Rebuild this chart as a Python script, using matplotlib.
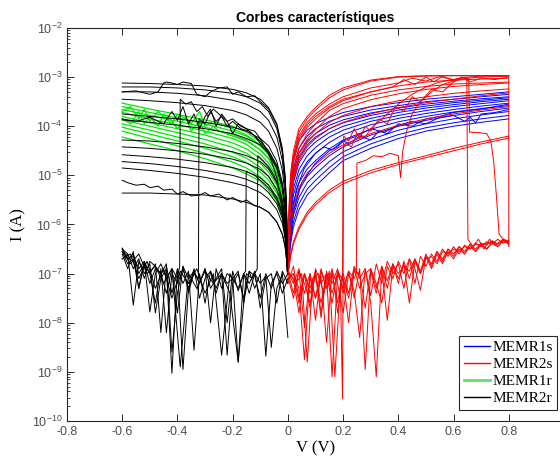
"""
    I-V characteristic curves of the memristors (set and reset sweeps), log current scale.
"""

import numpy as np
import matplotlib
matplotlib.use('Agg')
import matplotlib.pyplot as plt
from matplotlib.ticker import LogLocator, NullFormatter

# ------------------------------------- Data ---------------------------------------- #
# all currents are given as log10(I / A)

# voltage grids of the smooth sweeps
v_set = [0.002, 0.005, 0.01, 0.02, 0.04, 0.07, 0.1, 0.15, 0.2, 0.3, 0.4, 0.5, 0.6, 0.7, 0.8]
v_reset = [-0.6, -0.5, -0.4, -0.3, -0.2, -0.15, -0.1, -0.07, -0.04, -0.02, -0.01, -0.005, -0.002]

# voltage grids of the noisy low-state sweeps
v_low_pos = [0.0, 0.02, 0.04, 0.06, 0.08, 0.1, 0.12, 0.14, 0.16, 0.18, 0.2, 0.22, 0.24, 0.26,
             0.28, 0.3, 0.32, 0.34, 0.36, 0.38, 0.4, 0.42, 0.44, 0.46, 0.48, 0.5, 0.52, 0.54,
             0.56, 0.58, 0.6, 0.62, 0.64, 0.66, 0.68, 0.7, 0.72, 0.74, 0.76, 0.78, 0.8]
v_low_neg = [0.0, -0.02, -0.04, -0.06, -0.08, -0.1, -0.12, -0.14, -0.16, -0.18, -0.2, -0.22,
             -0.24, -0.26, -0.28, -0.3, -0.32, -0.34, -0.36, -0.38, -0.4, -0.42, -0.44, -0.46,
             -0.48, -0.5, -0.52, -0.54, -0.56, -0.58, -0.6]

# MEMR1s (blue)
memr1s = [
    [-6.6, -5.8, -5.2, -4.7, -4.3, -4.08, -3.95, -3.82, -3.72, -3.6, -3.52, -3.45, -3.4, -3.35, -3.3],
    [-6.65, -5.9, -5.35, -4.85, -4.45, -4.2, -4.05, -3.9, -3.8, -3.67, -3.58, -3.5, -3.45, -3.4, -3.35],
    [-6.7, -6.0, -5.45, -4.95, -4.55, -4.3, -4.15, -3.98, -3.87, -3.73, -3.63, -3.55, -3.49, -3.44, -3.4],
    [-6.7, -6.05, -5.55, -5.05, -4.65, -4.38, -4.22, -4.05, -3.93, -3.78, -3.67, -3.59, -3.52, -3.47, -3.42],
    [-6.75, -6.15, -5.65, -5.15, -4.75, -4.48, -4.32, -4.13, -4.0, -3.84, -3.72, -3.63, -3.56, -3.5, -3.45],
    [-6.8, -6.25, -5.75, -5.28, -4.88, -4.6, -4.43, -4.22, -4.08, -3.9, -3.78, -3.68, -3.6, -3.54, -3.48],
    [-6.8, -6.3, -5.85, -5.4, -5.0, -4.72, -4.55, -4.33, -4.17, -3.97, -3.84, -3.74, -3.66, -3.59, -3.53],
    [-6.85, -6.4, -5.98, -5.55, -5.15, -4.87, -4.7, -4.46, -4.28, -4.06, -3.91, -3.8, -3.71, -3.64, -3.58],
    [-6.85, -6.5, -6.1, -5.7, -5.3, -5.02, -4.84, -4.6, -4.42, -4.18, -4.0, -3.88, -3.78, -3.7, -3.63],
    [-6.9, -6.55, -6.2, -5.82, -5.45, -5.15, -4.98, -4.72, -4.52, -4.27, -4.08, -3.95, -3.85, -3.77, -3.7],
    [-6.9, -6.62, -6.3, -5.95, -5.58, -5.28, -5.1, -4.84, -4.62, -4.36, -4.17, -4.03, -3.93, -3.85, -3.78],
    [-6.95, -6.7, -6.4, -6.05, -5.7, -5.4, -5.22, -4.95, -4.7, -4.45, -4.25, -4.1, -4.0, -3.92, -3.85],
]
memr1s_jag_v = [
    [0.002, 0.01, 0.02, 0.05, 0.1, 0.15, 0.18, 0.2, 0.22, 0.26, 0.3, 0.33, 0.36, 0.4, 0.45, 0.5, 0.55, 0.6, 0.7, 0.8],
    [0.002, 0.01, 0.03, 0.06, 0.1, 0.13, 0.16, 0.2, 0.25, 0.3, 0.35, 0.4, 0.45, 0.5, 0.55, 0.6, 0.64, 0.66, 0.68, 0.7, 0.75, 0.8],
]
memr1s_jag = [
    [-6.85, -6.2, -5.75, -5.15, -4.75, -4.5, -4.42, -4.3, -4.35, -4.2, -4.28, -4.1, -4.15, -3.95, -4.0, -3.85, -3.8, -3.72, -3.65, -3.55],
    [-6.8, -6.0, -5.3, -4.85, -4.55, -4.42, -4.48, -4.3, -4.2, -4.05, -4.12, -3.98, -3.9, -3.95, -3.82, -3.78, -3.9, -3.82, -3.93, -3.75, -3.72, -3.66],
]

# MEMR2s (red)
memr2s = [
    [-6.3, -5.5, -4.95, -4.5, -4.05, -3.8, -3.62, -3.37, -3.22, -3.06, -2.99, -2.97, -2.97, -2.97, -2.97],
    [-6.35, -5.6, -5.05, -4.6, -4.12, -3.85, -3.67, -3.42, -3.26, -3.08, -3.0, -2.98, -2.97, -2.97, -2.97],
    [-6.5, -5.8, -5.3, -4.9, -4.45, -4.15, -3.95, -3.68, -3.54, -3.37, -3.26, -3.19, -3.14, -3.12, -3.1],
    [-6.55, -5.9, -5.4, -5.0, -4.55, -4.26, -4.07, -3.8, -3.64, -3.46, -3.34, -3.25, -3.19, -3.15, -3.12],
    [-6.6, -6.0, -5.5, -5.05, -4.62, -4.33, -4.15, -3.92, -3.78, -3.6, -3.48, -3.4, -3.33, -3.28, -3.24],
    [-6.7, -6.1, -5.6, -5.1, -4.7, -4.42, -4.25, -4.05, -3.92, -3.75, -3.62, -3.52, -3.45, -3.38, -3.32],
    [-6.85, -6.45, -6.05, -5.65, -5.25, -4.95, -4.78, -4.55, -4.38, -4.15, -3.98, -3.85, -3.75, -3.67, -3.6],
    [-6.95, -6.8, -6.6, -6.35, -6.05, -5.75, -5.55, -5.3, -5.12, -4.9, -4.74, -4.6, -4.45, -4.32, -4.2],
    [-6.95, -6.85, -6.65, -6.4, -6.1, -5.8, -5.6, -5.35, -5.17, -4.95, -4.78, -4.64, -4.5, -4.36, -4.24],
]
# sweeps that switch (low -> high at ~0.2 V, high -> low at ~0.65-0.8 V)
memr2s_sw_v = [
    [0.002, 0.02, 0.04, 0.06, 0.08, 0.1, 0.12, 0.14, 0.16, 0.18, 0.198, 0.2, 0.21, 0.23, 0.25, 0.28,
     0.3, 0.33, 0.36, 0.4, 0.45, 0.5, 0.55, 0.6, 0.65, 0.7, 0.8],
    [0.002, 0.02, 0.04, 0.06, 0.08, 0.1, 0.12, 0.14, 0.16, 0.18, 0.2, 0.22, 0.24, 0.248, 0.25, 0.28,
     0.31, 0.34, 0.37, 0.4, 0.408, 0.416, 0.43, 0.45, 0.48, 0.52, 0.56, 0.6, 0.65, 0.7, 0.8],
    [0.002, 0.03, 0.05, 0.07, 0.09, 0.11, 0.13, 0.15, 0.17, 0.19, 0.198, 0.202, 0.22, 0.24, 0.26, 0.28,
     0.3, 0.33, 0.36, 0.39, 0.42, 0.45, 0.48, 0.52, 0.56, 0.6, 0.63, 0.66, 0.7, 0.75, 0.8],
    [0.002, 0.005, 0.01, 0.02, 0.04, 0.07, 0.1, 0.15, 0.2, 0.3, 0.38, 0.42, 0.46, 0.5, 0.53, 0.56,
     0.6, 0.63, 0.648, 0.652, 0.67, 0.69, 0.71, 0.73, 0.75, 0.77, 0.8],
    [0.002, 0.005, 0.01, 0.02, 0.04, 0.07, 0.1, 0.15, 0.2, 0.3, 0.4, 0.45, 0.5, 0.55, 0.6, 0.64,
     0.655, 0.658, 0.69, 0.72, 0.735, 0.745, 0.755, 0.765, 0.78, 0.8],
    [0.002, 0.005, 0.01, 0.02, 0.04, 0.07, 0.1, 0.15, 0.2, 0.3, 0.4, 0.5, 0.6, 0.7, 0.8, 0.8],
]
memr2s_sw = [
    [-7.0, -7.4, -6.95, -8.1, -7.05, -7.5, -6.9, -7.3, -7.0, -7.6, -7.0, -4.45, -4.35, -4.42, -4.15, -4.22,
     -4.05, -3.9, -3.75, -3.55, -3.35, -3.2, -3.1, -3.05, -3.0, -2.98, -2.97],
    [-7.1, -7.0, -7.6, -7.0, -7.3, -6.95, -7.8, -7.0, -7.2, -6.9, -7.4, -6.95, -7.1, -7.0, -4.75, -4.7,
     -4.6, -4.62, -4.55, -4.6, -5.05, -4.5, -4.1, -3.75, -3.5, -3.3, -3.15, -3.08, -3.02, -3.0, -2.98],
    [-6.95, -7.2, -7.0, -8.8, -7.1, -7.0, -7.4, -6.95, -9.1, -7.2, -9.55, -4.2, -4.3, -4.05, -4.25, -4.0,
     -4.1, -3.85, -3.95, -3.6, -3.7, -3.4, -3.5, -3.25, -3.3, -3.1, -3.0, -3.1, -3.02, -3.05, -3.0],
    [-6.45, -5.7, -5.15, -4.7, -4.25, -3.97, -3.8, -3.6, -3.45, -3.3, -3.2, -3.05, -3.15, -3.0, -3.1, -2.98,
     -3.08, -3.0, -3.02, -6.3, -6.45, -6.3, -6.5, -6.3, -6.42, -6.35, -6.38],
    [-6.4, -5.65, -5.1, -4.65, -4.2, -3.92, -3.75, -3.55, -3.4, -3.22, -3.12, -3.02, -3.08, -2.99, -3.05, -3.0,
     -3.03, -4.12, -4.13, -4.15, -4.3, -4.7, -5.4, -6.2, -6.3, -6.4],
    [-6.5, -5.75, -5.2, -4.75, -4.3, -4.02, -3.85, -3.63, -3.48, -3.3, -3.18, -3.1, -3.06, -3.04, -3.02, -6.45],
]
# high resistance state sweeps (noisy, ~1e-7 A)
memr2s_low = [
    [-7.0, -7.1, -7.8, -7.0, -7.4, -7.05, -7.6, -7.0, -9.1, -7.0, -7.3, -6.95, -7.5, -6.9, -8.95, -6.95,
     -7.4, -6.85, -7.3, -6.8, -7.2, -6.75, -7.1, -6.7, -6.95, -6.6, -6.85, -6.55, -6.75, -6.5, -6.65,
     -6.45, -6.6, -6.4, -6.55, -6.4, -6.5, -6.35, -6.45, -6.32, -6.4],
    [-7.1, -7.0, -7.3, -8.75, -7.0, -7.5, -7.05, -8.4, -6.95, -7.2, -7.8, -7.0, -7.35, -8.3, -6.9, -7.6,
     -9.1, -6.9, -7.95, -6.85, -7.1, -6.8, -7.6, -6.75, -7.0, -6.65, -6.9, -6.6, -6.8, -6.55, -6.7,
     -6.5, -6.6, -6.45, -6.55, -6.4, -6.5, -6.38, -6.45, -6.33, -6.35],
    [-6.95, -7.2, -6.9, -7.4, -7.0, -7.95, -6.95, -7.3, -6.9, -7.8, -7.0, -7.4, -6.85, -7.1, -6.9, -7.45,
     -6.8, -7.2, -6.75, -7.0, -6.8, -7.3, -6.7, -6.9, -7.34, -6.65, -6.8, -6.55, -6.7, -6.5, -6.6,
     -6.45, -6.55, -6.4, -6.5, -6.38, -6.42, -6.33, -6.4, -6.3, -6.36],
    [-7.2, -6.85, -7.5, -7.0, -7.7, -6.9, -7.2, -7.0, -7.6, -6.95, -7.15, -8.0, -6.9, -7.3, -7.0, -6.9,
     -7.2, -7.6, -6.85, -7.1, -6.75, -7.0, -6.7, -7.2, -6.65, -6.85, -6.6, -6.75, -6.5, -6.65, -6.45,
     -6.6, -6.42, -6.5, -6.38, -6.45, -6.35, -6.4, -6.3, -6.38, -6.32],
    [-7.05, -7.5, -6.95, -7.2, -7.6, -7.0, -7.9, -6.95, -7.4, -7.0, -7.1, -7.5, -6.95, -7.0, -7.7, -6.9,
     -7.3, -6.85, -7.15, -6.8, -7.0, -6.85, -6.95, -6.7, -7.0, -6.7, -6.65, -6.8, -6.55, -6.6, -6.5,
     -6.55, -6.45, -6.5, -6.4, -6.42, -6.38, -6.35, -6.4, -6.3, -6.34],
]

# MEMR1r (green)
memr1r = [
    [-3.53, -3.65, -3.76, -3.87, -4.0, -4.12, -4.32, -4.5, -4.8, -5.25, -5.7, -6.1, -6.7],
    [-3.6, -3.72, -3.83, -3.95, -4.1, -4.2, -4.4, -4.58, -4.88, -5.32, -5.75, -6.15, -6.72],
    [-3.66, -3.78, -3.9, -4.02, -4.17, -4.28, -4.48, -4.66, -4.96, -5.38, -5.8, -6.2, -6.75],
    [-3.72, -3.85, -3.97, -4.1, -4.25, -4.37, -4.57, -4.75, -5.04, -5.45, -5.85, -6.25, -6.75],
    [-3.8, -3.93, -4.05, -4.18, -4.34, -4.46, -4.66, -4.84, -5.12, -5.52, -5.9, -6.28, -6.78],
    [-3.87, -4.0, -4.13, -4.27, -4.43, -4.55, -4.75, -4.93, -5.2, -5.58, -5.95, -6.32, -6.8],
    [-3.95, -4.08, -4.22, -4.36, -4.53, -4.65, -4.84, -5.02, -5.28, -5.65, -6.0, -6.35, -6.8],
    [-4.02, -4.16, -4.3, -4.45, -4.62, -4.74, -4.93, -5.1, -5.36, -5.72, -6.05, -6.4, -6.82],
    [-4.1, -4.25, -4.4, -4.55, -4.73, -4.85, -5.03, -5.2, -5.45, -5.78, -6.1, -6.42, -6.85],
    [-4.22, -4.36, -4.5, -4.66, -4.85, -4.97, -5.12, -5.3, -5.52, -5.85, -6.15, -6.45, -6.85],
]
memr1r_jag_v = [-0.6, -0.57, -0.54, -0.52, -0.5, -0.47, -0.45, -0.42, -0.4, -0.37, -0.35, -0.32,
                -0.3, -0.27, -0.25, -0.2, -0.15, -0.1, -0.07, -0.04, -0.02, -0.01, -0.005, -0.002]
memr1r_jag = [
    [-3.7, -3.6, -3.85, -3.65, -3.9, -3.7, -3.8, -3.95, -3.75, -3.85, -3.95, -3.7, -4.0, -3.9, -3.95,
     -4.05, -4.18, -4.38, -4.55, -4.85, -5.3, -5.72, -6.12, -6.7],
    [-3.85, -3.95, -3.7, -3.95, -3.8, -4.0, -3.75, -3.9, -4.05, -3.8, -4.1, -3.9, -4.15, -4.0, -4.1,
     -4.2, -4.3, -4.48, -4.65, -4.95, -5.35, -5.78, -6.15, -6.72],
]

# MEMR2r (black)
memr2r = [
    [-3.12, -3.13, -3.15, -3.18, -3.25, -3.32, -3.45, -3.62, -3.95, -4.45, -5.0, -5.6, -6.5],
    [-3.2, -3.2, -3.22, -3.26, -3.33, -3.4, -3.53, -3.7, -4.05, -4.55, -5.1, -5.7, -6.55],
    [-3.3, -3.3, -3.33, -3.38, -3.47, -3.55, -3.7, -3.88, -4.22, -4.7, -5.25, -5.8, -6.6],
    [-3.45, -3.48, -3.52, -3.58, -3.68, -3.77, -3.92, -4.1, -4.45, -4.9, -5.4, -5.9, -6.65],
    [-3.75, -3.8, -3.85, -3.92, -4.02, -4.1, -4.25, -4.4, -4.72, -5.15, -5.6, -6.05, -6.7],
    [-3.87, -3.92, -3.98, -4.05, -4.15, -4.25, -4.38, -4.55, -4.85, -5.25, -5.7, -6.1, -6.75],
    [-4.28, -4.3, -4.35, -4.42, -4.52, -4.6, -4.72, -4.87, -5.15, -5.5, -5.9, -6.25, -6.8],
    [-4.42, -4.45, -4.5, -4.57, -4.67, -4.75, -4.88, -5.02, -5.3, -5.62, -6.0, -6.35, -6.85],
    [-4.58, -4.62, -4.67, -4.74, -4.84, -4.92, -5.05, -5.2, -5.45, -5.75, -6.1, -6.4, -6.85],
    [-4.72, -4.76, -4.82, -4.9, -5.0, -5.08, -5.2, -5.35, -5.58, -5.88, -6.2, -6.5, -6.9],
    [-4.85, -4.9, -4.96, -5.04, -5.15, -5.22, -5.35, -5.48, -5.7, -5.98, -6.28, -6.55, -6.9],
    [-5.36, -5.36, -5.38, -5.4, -5.48, -5.55, -5.65, -5.75, -5.95, -6.2, -6.45, -6.7, -6.95],
]
memr2r_jag_v = [
    [-0.6, -0.55, -0.5, -0.47, -0.45, -0.44, -0.42, -0.4, -0.38, -0.35, -0.33, -0.3, -0.28, -0.25,
     -0.22, -0.2, -0.18, -0.15, -0.12, -0.1, -0.07, -0.04, -0.02, -0.01, -0.004, -0.002],
    [-0.6, -0.55, -0.5, -0.45, -0.42, -0.4, -0.38, -0.36, -0.34, -0.32, -0.3, -0.28, -0.26, -0.24,
     -0.22, -0.2, -0.18, -0.15, -0.12, -0.1, -0.07, -0.04, -0.02, -0.01, -0.004, -0.002],
    [-0.6, -0.58, -0.55, -0.52, -0.5, -0.47, -0.45, -0.42, -0.4, -0.38, -0.35, -0.32, -0.3, -0.28,
     -0.25, -0.22, -0.2, -0.17, -0.15, -0.12, -0.1, -0.07, -0.04, -0.02, -0.01, -0.004, -0.002],
    # sweeps that switch from the low state to the high state
    [-0.6, -0.58, -0.56, -0.54, -0.52, -0.5, -0.48, -0.46, -0.44, -0.42, -0.4, -0.392, -0.39, -0.37,
     -0.35, -0.33, -0.31, -0.29, -0.27, -0.25, -0.22, -0.2, -0.17, -0.15, -0.12, -0.1, -0.08, -0.06,
     -0.04, -0.03, -0.02, -0.01, -0.005, -0.002],
    [-0.6, -0.58, -0.56, -0.54, -0.52, -0.5, -0.48, -0.46, -0.44, -0.42, -0.4, -0.38, -0.36, -0.34,
     -0.324, -0.322, -0.3, -0.28, -0.26, -0.24, -0.22, -0.2, -0.17, -0.14, -0.12, -0.1, -0.07, -0.04,
     -0.02, -0.01, -0.005, -0.002],
    [-0.6, -0.57, -0.54, -0.51, -0.48, -0.45, -0.42, -0.39, -0.36, -0.33, -0.3, -0.27, -0.24, -0.21,
     -0.18, -0.16, -0.153, -0.151, -0.14, -0.12, -0.1, -0.08, -0.06, -0.04, -0.02, -0.01, -0.005, -0.002],
    [-0.6, -0.57, -0.54, -0.51, -0.48, -0.45, -0.42, -0.39, -0.36, -0.33, -0.3, -0.27, -0.24, -0.21,
     -0.18, -0.15, -0.13, -0.111, -0.109, -0.09, -0.07, -0.05, -0.03, -0.02, -0.01, -0.005, -0.002],
]
memr2r_jag = [
    [-3.3, -3.28, -3.35, -3.3, -3.12, -3.1, -3.12, -3.15, -3.1, -3.13, -3.35, -3.4, -3.3, -3.22,
     -3.2, -3.35, -3.3, -3.4, -3.38, -3.5, -3.65, -3.98, -4.5, -5.05, -5.9, -6.6],
    [-3.85, -3.9, -3.82, -3.95, -3.7, -3.88, -3.6, -3.95, -3.75, -4.05, -3.8, -3.65, -4.0, -3.75,
     -3.9, -4.15, -3.95, -4.05, -4.2, -4.35, -4.55, -4.85, -5.25, -5.7, -6.3, -6.75],
    [-5.1, -5.15, -5.2, -5.18, -5.25, -5.22, -5.3, -5.28, -5.38, -5.33, -5.42, -5.4, -5.35, -5.42,
     -5.38, -5.5, -5.45, -5.55, -5.5, -5.62, -5.65, -5.75, -5.95, -6.2, -6.45, -6.75, -6.95],
    [-6.5, -6.7, -6.6, -7.0, -6.8, -7.2, -6.9, -7.0, -7.4, -6.9, -7.1, -6.85, -3.45, -3.55,
     -3.5, -3.7, -3.6, -3.8, -3.65, -3.75, -3.9, -3.85, -4.0, -4.05, -4.1, -4.25, -4.45, -4.7,
     -5.05, -5.35, -5.75, -6.3, -6.7, -7.0],
    [-6.6, -6.9, -6.55, -7.3, -6.8, -7.0, -7.6, -6.9, -8.2, -7.0, -7.2, -6.9, -7.3, -7.0,
     -7.1, -3.85, -3.95, -3.7, -3.9, -3.8, -4.0, -3.9, -4.05, -4.1, -4.2, -4.3, -4.5, -4.8,
     -5.2, -5.65, -6.1, -6.7],
    [-6.7, -6.6, -7.1, -6.75, -7.3, -6.9, -7.5, -6.95, -7.2, -6.9, -7.4, -7.0, -8.66, -7.0,
     -7.3, -7.0, -6.95, -4.92, -4.95, -5.0, -5.1, -5.2, -5.32, -5.5, -5.8, -6.1, -6.4, -6.8],
    [-6.55, -6.8, -6.6, -7.0, -6.85, -7.2, -6.9, -8.9, -7.0, -7.3, -6.95, -7.2, -7.0, -7.4,
     -8.8, -7.0, -7.1, -6.9, -4.6, -4.7, -4.82, -5.0, -5.3, -5.55, -6.0, -6.4, -6.8],
]
memr2r_low = [
    [-8.3, -7.0, -7.3, -8.5, -7.05, -7.2, -7.0, -7.4, -7.0, -8.8, -7.1, -7.2, -7.0, -7.3, -6.95, -7.6,
     -7.0, -8.56, -6.95, -7.2, -6.9, -9.03, -6.9, -7.1, -7.8, -6.8, -7.0, -6.75, -7.64, -6.6, -6.5],
    [-7.1, -7.4, -7.0, -7.2, -8.68, -7.0, -7.3, -6.95, -7.5, -7.0, -7.2, -8.66, -7.0, -7.4, -6.95, -7.1,
     -7.5, -6.9, -7.3, -8.95, -6.9, -7.4, -6.85, -8.2, -6.8, -7.0, -6.75, -7.3, -6.7, -6.8, -6.55],
    [-7.2, -6.95, -7.6, -7.0, -7.1, -7.7, -6.95, -7.2, -7.0, -7.35, -6.95, -8.0, -6.9, -7.1, -7.3, -6.9,
     -7.2, -6.95, -7.4, -6.85, -7.8, -6.9, -7.1, -6.8, -7.0, -7.78, -6.75, -6.9, -6.65, -6.7, -6.48],
    [-7.0, -7.2, -6.95, -7.3, -7.0, -7.5, -7.05, -6.95, -7.6, -6.95, -7.1, -7.0, -7.3, -6.9, -8.0, -6.9,
     -7.2, -6.95, -7.1, -6.85, -7.4, -8.6, -6.8, -7.0, -6.85, -6.75, -7.1, -6.7, -6.9, -6.6, -6.7],
]

labels = ['MEMR1s', 'MEMR2s', 'MEMR1r', 'MEMR2r']
colors = ['#0000ff', '#ff0000', '#00e600', '#000000']

# ------------------------------------- Plot ---------------------------------------- #
plt.rcParams['mathtext.fontset'] = 'custom'
plt.rcParams['mathtext.rm'] = 'Liberation Sans'
plt.rcParams['mathtext.it'] = 'Liberation Sans:italic'

fig = plt.figure(figsize=(5.6, 4.61), dpi=100)
ax = fig.add_axes([67 / 560, 1 - 421 / 461, (564 - 67) / 560, (421 - 28) / 461])


def draw(v, logi, color, lw=0.7, label=None):
    ax.plot(v, 10.0 ** np.asarray(logi), color=color, lw=lw, label=label)


# MEMR1s
for k, c in enumerate(memr1s):
    draw(v_set, c, colors[0], label=labels[0] if k == 0 else None)
for v, c in zip(memr1s_jag_v, memr1s_jag):
    draw(v, c, colors[0])

# MEMR2s
for k, c in enumerate(memr2s):
    draw(v_set, c, colors[1], label=labels[1] if k == 0 else None)
for v, c in zip(memr2s_sw_v, memr2s_sw):
    draw(v, c, colors[1])
for c in memr2s_low:
    draw(v_low_pos, c, colors[1])

# MEMR1r
for k, c in enumerate(memr1r):
    draw(v_reset, c, colors[2], lw=0.9, label=labels[2] if k == 0 else None)
for c in memr1r_jag:
    draw(memr1r_jag_v, c, colors[2], lw=0.9)

# MEMR2r
for k, c in enumerate(memr2r):
    draw(v_reset, c, colors[3], label=labels[3] if k == 0 else None)
for v, c in zip(memr2r_jag_v, memr2r_jag):
    draw(v, c, colors[3])
for c in memr2r_low:
    draw(v_low_neg, c, colors[3])

# Axes
ax.set_yscale('log')
ax.set_xlim(-0.8, 1.0)
ax.set_ylim(1e-10, 1e-2)
xt = [-0.8, -0.6, -0.4, -0.2, 0.0, 0.2, 0.4, 0.6, 0.8, 1.0]
ax.set_xticks(xt)
# the label of 1 falls outside the saved picture
ax.set_xticklabels(['-0.8', '-0.6', '-0.4', '-0.2', '0', '0.2', '0.4', '0.6', '0.8', ''])
ax.set_yticks([10.0 ** p for p in range(-10, -1)])
ax.yaxis.set_minor_locator(LogLocator(base=10, subs=np.arange(2, 10), numticks=20))
ax.yaxis.set_minor_formatter(NullFormatter())

ax.tick_params(which='both', direction='in', top=True, right=False, colors='#262626',
               labelcolor='#4d4d4d', labelsize=9)
ax.tick_params(which='major', length=5, width=0.7)
ax.tick_params(which='minor', length=2.5, width=0.6)
for lab in ax.get_xticklabels() + ax.get_yticklabels():
    lab.set_fontfamily('Liberation Sans')
for s in ax.spines.values():
    s.set_color('#262626')
    s.set_linewidth(0.8)

ax.set_xlabel('V (V)', family='Liberation Serif', fontsize=12, labelpad=2)
ax.set_ylabel('I (A)', family='Liberation Serif', fontsize=12, labelpad=4)
ax.set_title('Corbes característiques', family='Liberation Sans', fontweight='bold',
             fontsize=10, pad=4)

leg = ax.legend(loc='lower right', bbox_to_anchor=(557 / 560, 1 - 410 / 461),
                bbox_transform=fig.transFigure, prop={'family': 'Liberation Serif', 'size': 11},
                frameon=True, fancybox=False, framealpha=1, edgecolor='#262626',
                handlelength=1.7, handletextpad=0.15, labelspacing=0.22, borderpad=0.3,
                borderaxespad=0)
leg.get_frame().set_linewidth(0.8)
for h in leg.get_lines():
    h.set_linewidth(1.0)
leg.get_lines()[2].set_linewidth(2.0)
leg.get_lines()[2].set_color('#66dd66')

fig.savefig('out.png', dpi=100)
